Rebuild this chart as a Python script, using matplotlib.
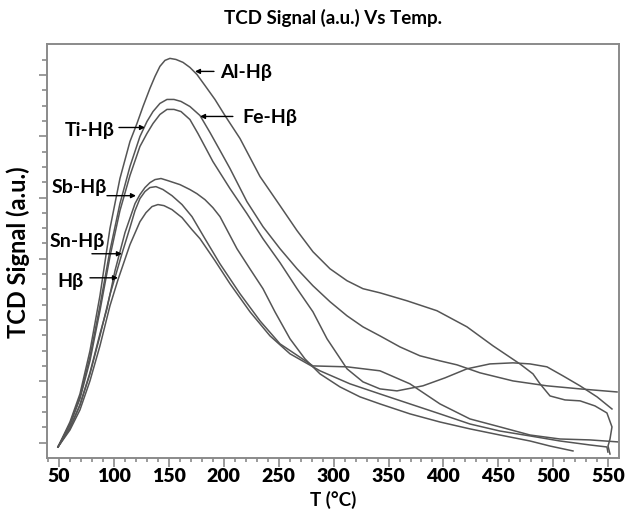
import matplotlib
matplotlib.use("Agg")
import matplotlib.pyplot as plt
from matplotlib.ticker import MultipleLocator

plt.rcParams['font.family'] = ['Lato', 'DejaVu Sans']

# temperature (deg C) and TCD signal (a.u., arbitrary)
al_t = [49.1, 60.0, 69.1, 78.2, 87.3, 96.4, 105.5, 114.6, 121.0, 126.5, 132.8, 137.4, 141.9, 146.5,
        151.0, 156.5, 162.9, 169.2, 175.6, 182.9, 192.0, 201.1, 214.8, 233.0, 251.2, 266.7, 281.2,
        296.7, 312.2, 326.7, 342.2, 366.8, 394.1, 421.4, 445.1, 469.6, 481.5, 487.9, 497.0, 510.6,
        524.3, 537.9, 548.8, 553.4, 551.6, 549.8, 551.6]
al_s = [0.72, 2.35, 4.18, 6.99, 10.59, 14.97, 18.24, 20.65, 21.83, 22.94, 24.12, 24.90, 25.56, 25.95,
        26.08, 26.01, 25.82, 25.49, 25.03, 24.31, 23.40, 22.35, 20.85, 18.37, 16.47, 14.84, 13.46,
        12.35, 11.57, 11.05, 10.78, 10.26, 9.61, 8.56, 7.32, 6.14, 5.49, 4.84, 4.05, 3.79,
        3.73, 3.40, 2.94, 2.03, 1.24, 0.78, 0.26]

fe_t = [49.1, 60.0, 69.1, 78.2, 87.3, 96.4, 105.5, 114.6, 123.7, 130.1, 135.6, 141.9, 148.3, 154.7,
        161.1, 169.2, 178.4, 187.5, 196.6, 205.7, 221.1, 235.7, 251.2, 266.7, 281.2, 296.7, 312.2,
        326.7, 342.2, 360.4, 378.6, 396.8, 412.3, 433.2, 463.3, 494.2, 524.3, 558.0]
fe_s = [0.72, 2.22, 3.99, 6.60, 9.93, 13.53, 16.60, 19.02, 20.98, 21.96, 22.61, 23.14, 23.40, 23.40,
        23.27, 22.94, 22.35, 21.24, 20.07, 18.89, 16.73, 15.10, 13.66, 12.35, 11.24, 10.20, 9.28,
        8.56, 7.97, 7.25, 6.67, 6.34, 6.08, 5.56, 5.03, 4.71, 4.51, 4.31]

ti_t = [49.1, 60.0, 69.1, 78.2, 87.3, 96.4, 105.5, 114.6, 123.7, 130.1, 135.6, 141.9, 148.3, 154.7,
        161.1, 169.2, 176.5, 183.8, 190.1, 205.7, 221.1, 235.7, 251.2, 266.7, 281.2, 294.0, 312.2,
        326.7, 342.2, 357.7, 381.3, 401.4, 421.4, 442.3, 463.3, 478.8, 494.2, 508.8, 524.3, 539.8,
        553.4]
ti_s = [0.72, 2.16, 3.86, 6.34, 9.61, 13.14, 16.14, 18.43, 20.33, 21.18, 21.83, 22.42, 22.75, 22.75,
        22.61, 22.09, 21.18, 20.20, 19.35, 17.58, 15.95, 14.31, 12.75, 11.05, 9.54, 7.78, 5.82,
        4.97, 4.51, 4.38, 4.71, 5.23, 5.82, 6.14, 6.21, 6.14, 5.95, 5.36, 4.71, 3.99,
        3.20]

sb_t = [49.1, 60.0, 69.1, 78.2, 87.3, 93.7, 101.0, 110.1, 119.2, 123.7, 128.3, 132.8, 137.4, 142.9,
        149.2, 160.2, 169.2, 175.6, 182.9, 190.1, 196.6, 212.0, 223.8, 235.7, 246.6, 260.3, 273.9,
        287.6, 305.8, 324.0, 342.2, 369.5, 396.8, 424.1, 451.4, 478.8, 497.0, 517.9]
sb_s = [0.72, 1.96, 3.46, 5.56, 8.10, 9.74, 12.22, 14.71, 16.60, 17.19, 17.65, 17.97, 18.17, 18.24,
        18.10, 17.84, 17.52, 17.25, 16.86, 16.34, 15.75, 13.66, 12.35, 11.05, 9.54, 7.78, 6.47,
        5.49, 4.64, 3.99, 3.53, 2.88, 2.35, 1.90, 1.50, 1.11, 0.78, 0.46]

sn_t = [49.1, 60.0, 69.1, 78.2, 87.3, 96.4, 107.3, 114.6, 119.2, 123.7, 128.3, 132.8, 138.3, 144.7,
        152.9, 162.0, 171.1, 182.9, 196.5, 214.8, 233.0, 251.2, 281.2, 312.2, 342.2, 369.5, 396.8,
        424.1, 451.4, 478.8, 506.1, 533.4, 558.9]
sn_s = [0.72, 1.96, 3.46, 5.49, 7.97, 10.65, 13.33, 15.03, 16.14, 16.93, 17.39, 17.65, 17.71, 17.52,
        17.12, 16.54, 15.75, 14.31, 12.68, 10.72, 8.95, 7.45, 6.01, 5.95, 5.69, 4.84, 3.53,
        2.55, 2.03, 1.50, 1.24, 1.18, 1.05]

hb_t = [49.1, 60.0, 69.1, 78.2, 87.3, 96.4, 103.7, 114.6, 123.7, 129.2, 134.7, 140.1, 145.6, 152.9,
        162.0, 171.1, 178.4, 192.0, 205.7, 223.9, 242.1, 260.3, 287.6, 314.9, 342.2, 369.5, 396.8,
        424.1, 451.4, 478.8, 506.1, 533.4, 548.8, 549.7]
hb_s = [0.72, 1.83, 3.14, 5.03, 7.32, 9.93, 11.63, 13.92, 15.42, 16.01, 16.41, 16.54, 16.47, 16.21,
        15.69, 14.90, 14.31, 12.88, 11.37, 9.54, 7.97, 6.80, 5.69, 4.84, 4.18, 3.53, 2.88,
        2.22, 1.76, 1.44, 1.11, 0.85, 0.72, 0.39]

# label text position, arrow tail, arrow tip (T, signal)
labels = ['Al-H\u03b2', 'Fe-H\u03b2', 'Ti-H\u03b2', 'Sb-H\u03b2', 'Sn-H\u03b2', 'H\u03b2']
label_xy = [(196.6, 25.23), (216.6, 22.29), (55.5, 21.44), (43.6, 17.71), (41.8, 14.18), (48.2, 11.57)]
arrow_from = [(191.1, 25.23), (208.3, 22.29), (104.6, 21.57), (93.7, 17.12), (80.0, 13.33), (78.2, 11.76)]
arrow_to = [(173.8, 25.23), (178.4, 22.29), (128.3, 21.57), (120.1, 17.12), (107.3, 13.33), (103.7, 11.76)]

fig = plt.figure(figsize=(6.26, 5.10), dpi=100)
ax = fig.add_axes([0.0756, 0.1, 0.9127, 0.8112])

line_col = '#555555'
for t, s in [(al_t, al_s), (fe_t, fe_s), (ti_t, ti_s), (sb_t, sb_s), (sn_t, sn_s), (hb_t, hb_s)]:
    ax.plot(t, s, color=line_col, lw=1.1)

for lab, pos, a0, a1 in zip(labels, label_xy, arrow_from, arrow_to):
    ax.text(pos[0], pos[1], lab, fontsize=14, fontweight='bold', ha='left', va='center')
    ax.annotate('', xy=a1, xytext=a0,
                arrowprops=dict(arrowstyle='-|>', color='black', lw=1.0, mutation_scale=7,
                                shrinkA=0, shrinkB=0))

ax.set_xlim(39.4, 559.5)
ax.set_ylim(0, 27)
ax.xaxis.set_major_locator(MultipleLocator(50))
ax.xaxis.set_minor_locator(MultipleLocator(10))
ax.set_yticks([1, 5, 9, 13, 17, 21, 25])
ax.set_yticks(range(1, 27), minor=True)
ax.set_yticklabels([])

for sp in ax.spines.values():
    sp.set_color('#8a8a8a')
    sp.set_linewidth(1.4)
ax.tick_params(axis='both', which='both', direction='out', color='#8a8a8a', width=1.2)
ax.tick_params(axis='x', which='major', length=6.7, labelsize=14, pad=0)
ax.tick_params(axis='x', which='minor', length=3)
ax.tick_params(axis='y', which='major', length=6)
ax.tick_params(axis='y', which='minor', length=3.5)
for lbl in ax.get_xticklabels():
    lbl.set_fontweight('heavy')

# x label sits right at the bottom edge, as in the original
fig.text(0.532, 0.002, 'T (\u00b0C)', fontsize=13.5, fontweight='bold', ha='center', va='bottom')
ax.set_ylabel('TCD Signal (a.u.)', fontsize=17, fontweight='bold', labelpad=3)
ax.set_title('TCD Signal (a.u.) Vs Temp.', fontsize=13.5, fontweight='bold', pad=15)

fig.savefig('out.png', dpi=100)
